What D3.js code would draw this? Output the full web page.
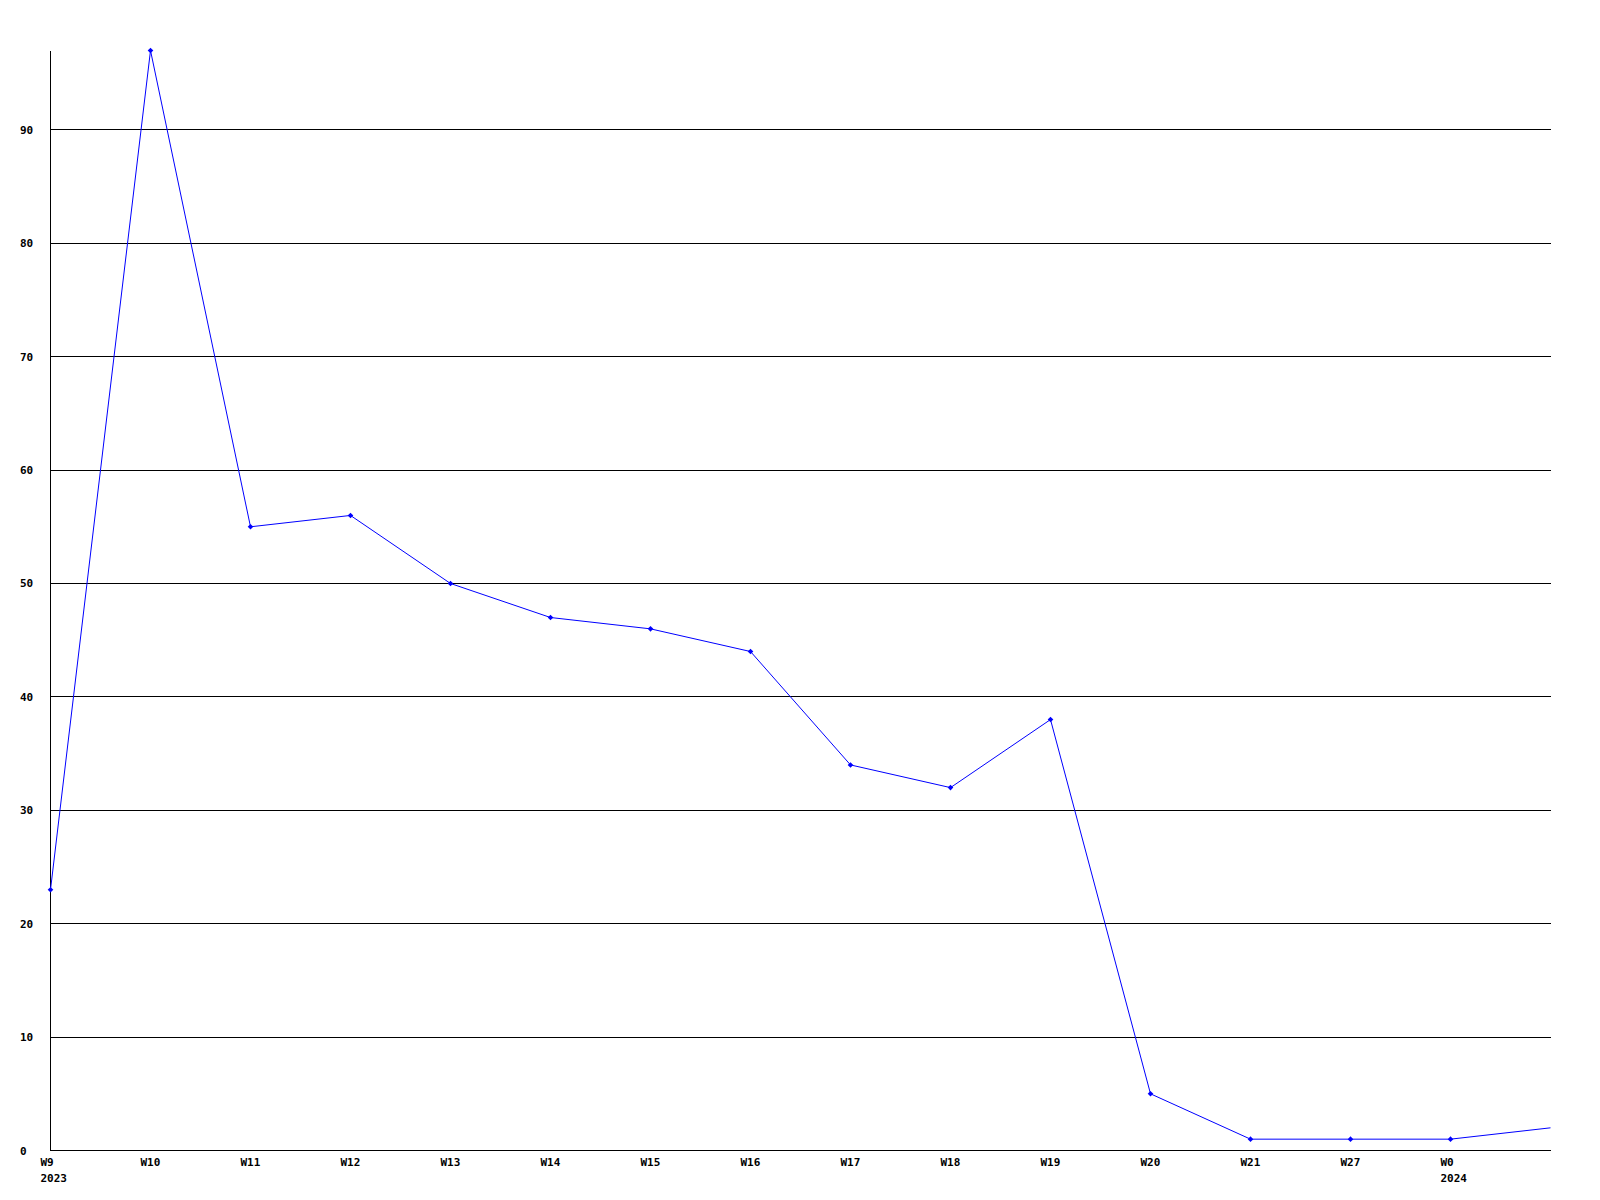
<!DOCTYPE html>
<html><head><meta charset="utf-8">
<script src="https://cdn.jsdelivr.net/npm/d3@7"></script>
<style>
html,body{margin:0;padding:0;background:#fff;}
text{font-family:"DejaVu Sans Mono",monospace;font-weight:bold;font-size:11px;fill:#000;}
</style></head>
<body><svg id="c" width="1600" height="1200"></svg>
<script>
const categories = ["W9","W10","W11","W12","W13","W14","W15","W16","W17","W18","W19","W20","W21","W27","W0",""];
const yearLabels = ["2023","","","","","","","","","","","","","","2024",""];
const values = [23,97,55,56,50,47,46,44,34,32,38,5,1,1,1,2];
const yTicks = [0,10,20,30,40,50,60,70,80,90];

const svg = d3.select("#c");
const x = d3.scaleLinear().domain([0, categories.length-1]).range([50.5, 1550.5]);
const y = d3.scaleLinear().domain([0, d3.max(values)]).range([1150.5, 50.5]);

// gridlines
svg.append("g").selectAll("line").data(yTicks.filter(d=>d>0)).join("line")
  .attr("x1", x(0)).attr("x2", x(categories.length-1))
  .attr("y1", d=>Math.round(y(d)-0.5)+0.5).attr("y2", d=>Math.round(y(d)-0.5)+0.5)
  .attr("stroke","#000").attr("stroke-width",1).attr("shape-rendering","crispEdges");

// y labels
svg.append("g").selectAll("text").data(yTicks).join("text")
  .attr("x", 20).attr("y", d=>y(d)+4).text(d=>d);

// axes lines
svg.append("line").attr("x1",x(0)).attr("x2",x(0)).attr("y1",y(d3.max(values))).attr("y2",y(0))
  .attr("stroke","#000").attr("shape-rendering","crispEdges");
svg.append("line").attr("x1",x(0)).attr("x2",x(categories.length-1)).attr("y1",y(0)).attr("y2",y(0))
  .attr("stroke","#000").attr("shape-rendering","crispEdges");

// x labels
const xl = svg.append("g");
xl.selectAll("text.w").data(categories).join("text").attr("class","w")
  .attr("x",(d,i)=>x(i)-10).attr("y",1166).text(d=>d);
xl.selectAll("text.yr").data(yearLabels).join("text").attr("class","yr")
  .attr("x",(d,i)=>x(i)-10).attr("y",1182).text(d=>d);

// line
const line = d3.line().x((d,i)=>x(i)).y(d=>y(d));
svg.append("path").datum(values).attr("d",line).attr("fill","none")
  .attr("stroke","#0000ff").attr("stroke-width",1);

// markers
svg.append("g").selectAll("path").data(values.slice(0, values.length-1)).join("path")
  .attr("d",(d,i)=>{const cx=x(i), cy=y(d), r=2.8; return `M${cx},${cy-r}L${cx+r},${cy}L${cx},${cy+r}L${cx-r},${cy}Z`;})
  .attr("fill","#0000ff");
</script></body></html>
